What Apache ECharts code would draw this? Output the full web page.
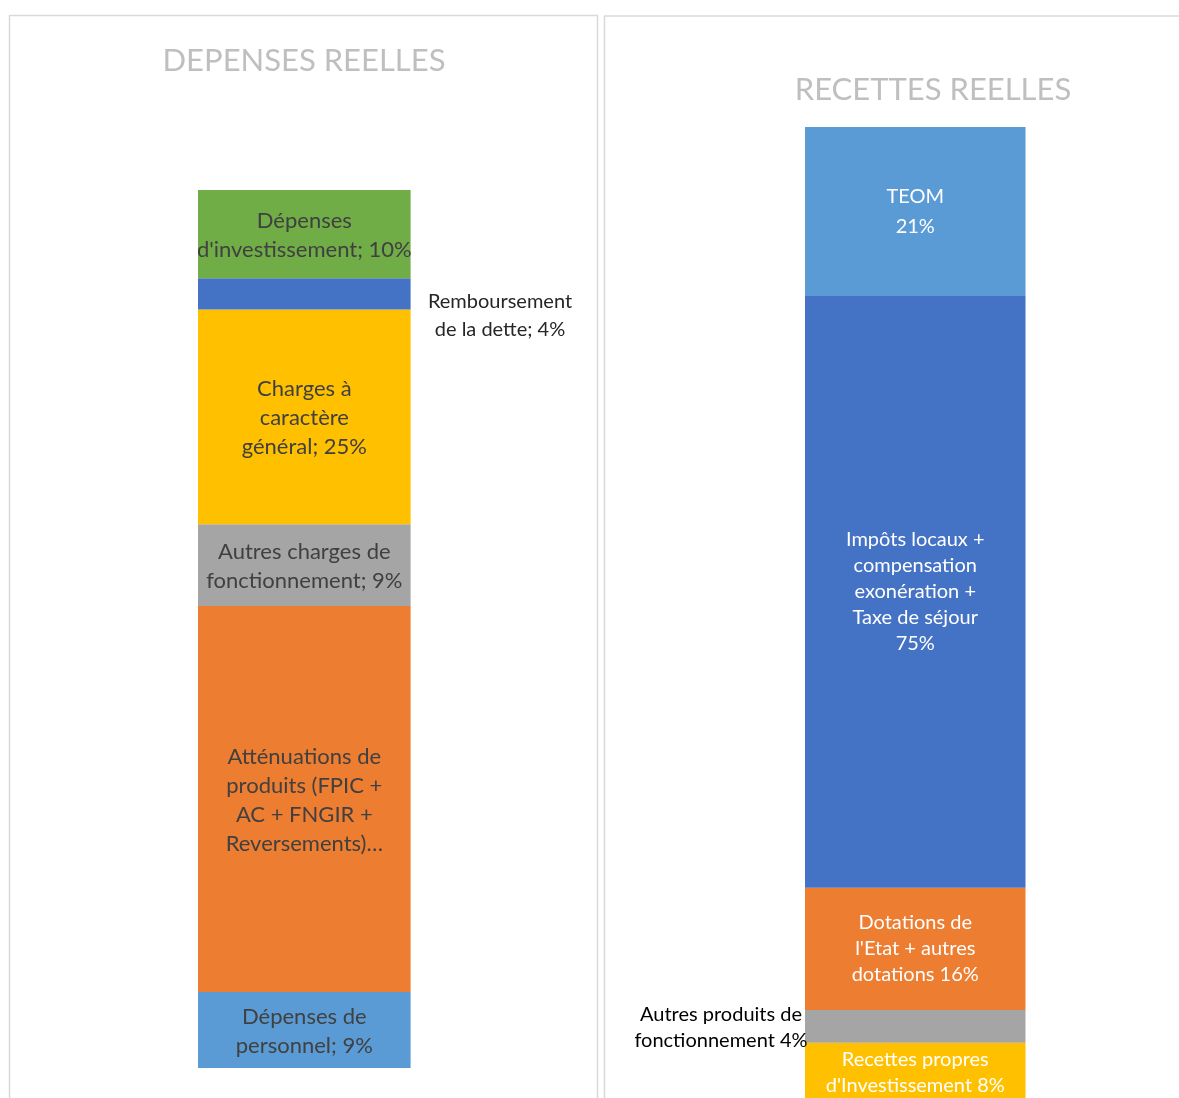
<!DOCTYPE html>
<html>
<head>
<meta charset="utf-8">
<script src="https://cdn.jsdelivr.net/npm/echarts@6/dist/echarts.min.js"></script>
<style>
html,body{margin:0;padding:0;overflow:hidden;background:#fff;}
#chart{width:1179px;height:1120px;}
</style>
</head>
<body>
<div id="chart"></div>
<script>
// ----- Data (bottom to top of each stacked bar) -----
const depTitle = 'DEPENSES REELLES';
const recTitle = 'RECETTES REELLES';

const depCategories = [
  'Dépenses de personnel',
  'Atténuations de produits (FPIC + AC + FNGIR + Reversements)',
  'Autres charges de fonctionnement',
  'Charges à caractère général',
  'Remboursement de la dette',
  "Dépenses d'investissement"
];
const depValues = [8.66, 43.96, 9.31, 24.48, 3.54, 10.06];
const depLabels = [
  'Dépenses de\npersonnel; 9%',
  'Atténuations de\nproduits (FPIC +\nAC + FNGIR +\nReversements)…',
  'Autres charges de\nfonctionnement; 9%',
  'Charges à\ncaractère\ngénéral; 25%',
  'Remboursement\nde la dette; 4%',
  "Dépenses\nd'investissement; 10%"
];
const depColors = ['#5B9BD5', '#ED7D31', '#A5A5A5', '#FFC000', '#4472C4', '#70AD47'];

const recCategories = [
  "Recettes propres d'Investissement",
  'Autres produits de fonctionnement',
  "Dotations de l'Etat + autres dotations",
  'Impôts locaux + compensation exonération + Taxe de séjour',
  'TEOM'
];
const recValues = [8.0, 4.18, 15.46, 75.0, 21.41];
const recLabels = [
  "Recettes propres\nd'Investissement 8%",
  'Autres produits de\nfonctionnement 4%',
  "Dotations de\nl'Etat + autres\ndotations 16%",
  'Impôts locaux +\ncompensation\nexonération +\nTaxe de séjour\n75%',
  'TEOM\n21%'
];
const recColors = ['#FFC000', '#A5A5A5', '#ED7D31', '#4472C4', '#5B9BD5'];

// ----- Chart -----
const FONT = 'Lato';
const sum = a => a.reduce((s, v) => s + v, 0);
const chart = echarts.init(document.getElementById('chart'), null, {renderer: 'canvas'});

const series = [];
depValues.forEach((v, i) => {
  let label = {
    show: true, position: 'inside', formatter: depLabels[i],
    color: '#404040', fontFamily: FONT, fontSize: 22, lineHeight: 29, align: 'center',
    offset: [0, 1]
  };
  if (i === 4) {
    label = {
      show: true, position: [302, 37], formatter: depLabels[i],
      color: '#262626', fontFamily: FONT, fontSize: 20, lineHeight: 28,
      align: 'center', verticalAlign: 'middle'
    };
  }
  series.push({
    type: 'bar', name: depCategories[i], stack: 'dep', xAxisIndex: 0, yAxisIndex: 0,
    barWidth: '100%', data: [v], itemStyle: {color: depColors[i]}, label: label,
    emphasis: {disabled: true}
  });
});
recValues.forEach((v, i) => {
  let label = {
    show: true, position: 'inside', formatter: recLabels[i],
    color: '#ffffff', fontFamily: FONT, fontSize: 20, lineHeight: i === 4 ? 30 : 26, align: 'center'
  };
  if (i === 0) label.offset = [0, -2];
  if (i === 1) {
    label = {
      show: true, position: [-84, 18], formatter: recLabels[i],
      color: '#000000', fontFamily: FONT, fontSize: 20, lineHeight: 26,
      align: 'center', verticalAlign: 'middle'
    };
  }
  series.push({
    type: 'bar', name: recCategories[i], stack: 'rec', xAxisIndex: 1, yAxisIndex: 1,
    barWidth: '100%', data: [v], itemStyle: {color: recColors[i]}, label: label,
    emphasis: {disabled: true}
  });
});

chart.setOption({
  animation: false,
  backgroundColor: '#ffffff',
  title: [
    {text: depTitle, left: 299, top: 40, textAlign: 'center',
     textStyle: {color: '#bfbfbf', fontFamily: FONT, fontSize: 31, fontWeight: 'normal'}},
    {text: recTitle, left: 928, top: 69, textAlign: 'center',
     textStyle: {color: '#bfbfbf', fontFamily: FONT, fontSize: 31, fontWeight: 'normal'}}
  ],
  graphic: [
    {type: 'rect', silent: true, z: -10,
     shape: {x: 9.5, y: 15.5, width: 588, height: 1300},
     style: {fill: 'none', stroke: '#d9d9d9', lineWidth: 1.5}},
    {type: 'rect', silent: true, z: -10,
     shape: {x: 604.5, y: 16, width: 700, height: 1300},
     style: {fill: 'none', stroke: '#d9d9d9', lineWidth: 1.5}}
  ],
  grid: [
    {left: 198, top: 190, width: 212.6, height: 878},
    {left: 805, top: 127, width: 220.5, height: 979}
  ],
  xAxis: [
    {type: 'category', gridIndex: 0, data: [''], show: false},
    {type: 'category', gridIndex: 1, data: [''], show: false}
  ],
  yAxis: [
    {type: 'value', gridIndex: 0, min: 0, max: sum(depValues), show: false},
    {type: 'value', gridIndex: 1, min: 0, max: sum(recValues), show: false}
  ],
  series: series
});
</script>
</body>
</html>
